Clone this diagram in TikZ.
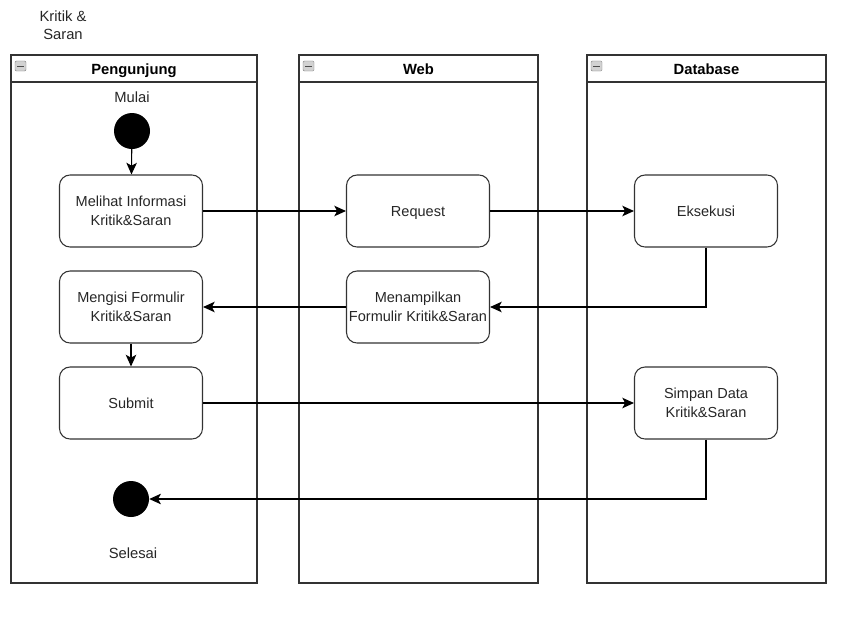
\documentclass[tikz,border=0pt]{standalone}
\usepackage{fontspec}
\setmainfont{Liberation Sans}
\usepackage{tikz}
\usetikzlibrary{arrows.meta,positioning,calc}

\tikzset{
  lane/.style={draw=black!80,line width=1.1pt},
  act/.style={draw=black!80,line width=0.9pt,rounded corners=9pt,minimum width=4.29cm,
    minimum height=2.16cm,inner xsep=0pt,align=center,font=\fontsize{12.4}{16}\selectfont,text=black!85},
  one/.style={text height=2ex,text depth=0.2ex},
  dot/.style={circle,fill=black,minimum size=1.08cm,inner sep=0pt},
  flow/.style={line width=0.9pt,-{Stealth[length=10pt,width=9pt,inset=2.5pt]}},
  lbl/.style={font=\fontsize{12.6}{15}\selectfont,align=center,text=black!85},
  head/.style={font=\bfseries\fontsize{12.6}{15}\selectfont,text height=2ex,text depth=0.2ex},
}

\begin{document}
\begin{tikzpicture}[x=0.03cm,y=-0.03cm]
    \useasboundingbox (0,0) rectangle (853,618);

    % Title
    \node[lbl] (judul) at (63,25) {Kritik \&\\Saran};

    % Swimlanes
    \foreach \xa/\xb/\nm/\txt in {11/257/pengunjung/Pengunjung,299/538/web/Web,587/826/database/Database}{
        \draw[lane] (\xa,55) rectangle (\xb,583);
        \draw[lane] (\xa,82) -- (\xb,82);
        \node[head] (\nm) at ({(\xa+\xb)/2},69) {\txt};
        \draw[gray,fill=gray!35,rounded corners=1pt] (\xa+4,61) rectangle (\xa+15,71);
        \draw[black!70,line width=0.8pt] (\xa+6,66) -- (\xa+13,66);
    }

    % Start and end
    \node[lbl] (mulai) at (132,97) {Mulai};
    \node[dot] (start) at (132,131) {};
    \node[dot] (stop) at (131,499) {};
    \node[lbl] (selesai) at (133,553) {Selesai};

    % Activities
    \node[act] (melihat) at (131,211) {Melihat Informasi\\Kritik\&Saran};
    \node[act,one] (request) at (418,211) {Request};
    \node[act,one] (eksekusi) at (706,211) {Eksekusi};
    \node[act] (mengisi) at (131,307) {Mengisi Formulir\\Kritik\&Saran};
    \node[act] (menampilkan) at (418,307) {Menampilkan\\Formulir Kritik\&Saran};
    \node[act,one] (submit) at (131,403) {Submit};
    \node[act] (simpan) at (706,403) {Simpan Data\\Kritik\&Saran};

    % Flow
    \draw[flow] (start) -- (melihat);
    \draw[flow] (melihat) -- (request);
    \draw[flow] (request) -- (eksekusi);
    \draw[flow] (eksekusi.south) |- (menampilkan.east);
    \draw[flow] (menampilkan) -- (mengisi);
    \draw[flow] (mengisi) -- (submit);
    \draw[flow] (submit) -- (simpan);
    \draw[flow] (simpan.south) |- (stop.east);
\end{tikzpicture}
\end{document}
